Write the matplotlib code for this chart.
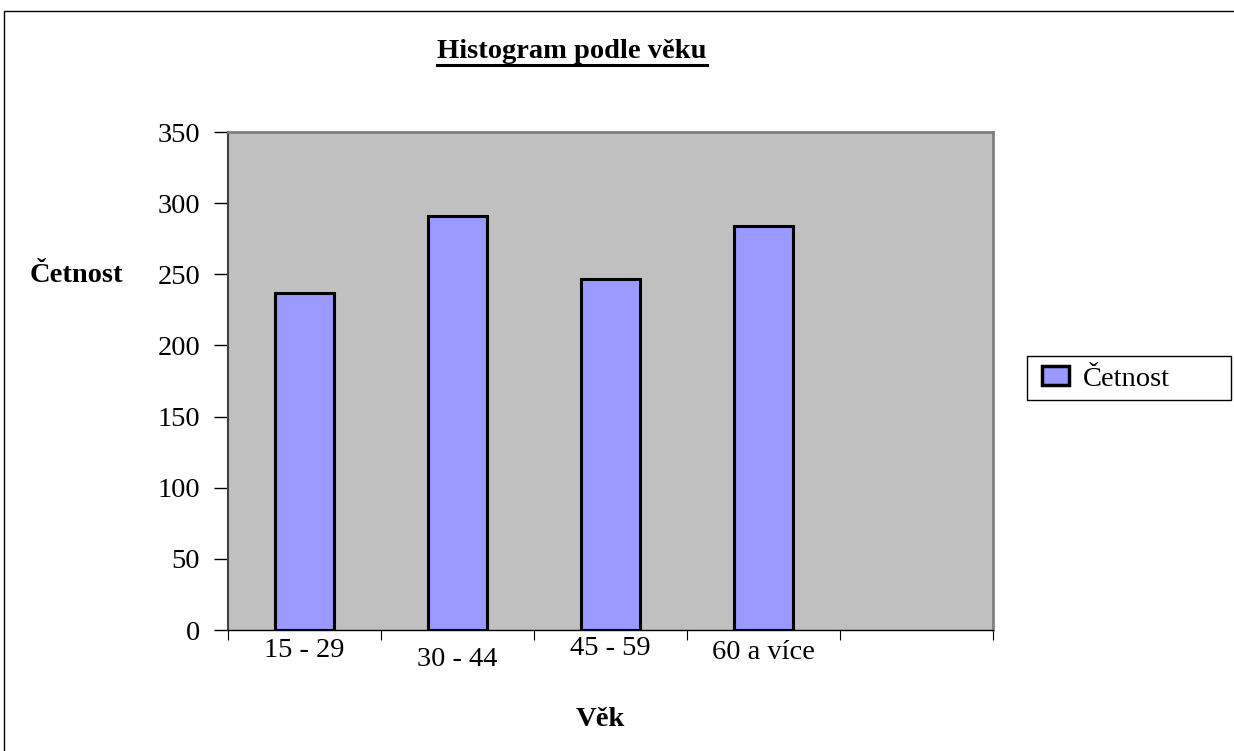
import numpy as np
import matplotlib
matplotlib.use("Agg")
import matplotlib.pyplot as plt
from matplotlib.patches import Rectangle, Patch
from matplotlib.lines import Line2D

# Data
categories = ["15 - 29", "30 - 44", "45 - 59", "60 a více"]
counts = [237, 291, 247, 284]
n_slots = 5  # Excel leaves an empty fifth slot
yticks = [0, 50, 100, 150, 200, 250, 300, 350]

plt.rcParams['font.family'] = ['Liberation Serif', 'DejaVu Serif']
FS = 20.5

fig = plt.figure(figsize=(12.34, 7.51), dpi=100)
ax = fig.add_axes([228/1234, 1-630/751, 765/1234, 498/751])
ax.set_facecolor('#c0c0c0')

x = np.arange(len(counts)) + 0.5
ax.bar(x, counts, width=0.39, color='#9999ff', edgecolor='black', linewidth=2.2, zorder=3)

ax.set_xlim(0, n_slots)
ax.set_ylim(0, 350)
ax.set_yticks(yticks)
ax.set_yticklabels([str(v) for v in yticks], fontsize=FS)

# ticks at slot boundaries, labels at centres
ax.set_xticks(np.arange(n_slots + 1))
ax.set_xticklabels([])
ax.set_xticks(x, minor=True)
ax.set_xticklabels(categories, minor=True, fontsize=FS)
ax.tick_params(axis='x', which='minor', length=0)
ax.tick_params(axis='x', which='major', length=7, width=0.8, direction='out')
ax.tick_params(axis='y', length=10, width=1, direction='out', pad=10)
# labels sit at slightly different heights in the original
pads = [6, 12, 4, 7]
for t, p in zip(ax.xaxis.get_minor_ticks(), pads):
    t.set_pad(p)

for s in ['top', 'right']:
    ax.spines[s].set_color('#808080')
    ax.spines[s].set_linewidth(2)
ax.spines['left'].set_color('#404040')
ax.spines['left'].set_linewidth(1.5)
ax.spines['bottom'].set_color('black')
ax.spines['bottom'].set_linewidth(1)

fig.text(30/1234, 1-276/751, 'Četnost', fontsize=FS, fontweight='bold', ha='left', va='center')
fig.text(600/1234, 1-720/751, 'Věk', fontsize=FS, fontweight='bold', ha='center', va='center')
title = fig.text(572/1234, 1-52/751, 'Histogram podle věku', fontsize=FS, fontweight='bold',
                 ha='center', va='center')

fig.canvas.draw()
bb = title.get_window_extent().transformed(fig.transFigure.inverted())
fig.add_artist(Line2D([bb.x0, bb.x1], [bb.y0 - 0.001, bb.y0 - 0.001], color='black',
                      linewidth=2.2, transform=fig.transFigure))

# legend: frame drawn separately so it matches the wide Excel box
fig.add_artist(Rectangle((1027/1234, 1-400/751), 204/1234, 44/751, transform=fig.transFigure,
                         fill=False, edgecolor='black', linewidth=1))
leg = fig.legend(handles=[Patch(facecolor='#9999ff', edgecolor='black', linewidth=2.5, label='Četnost')],
                 loc='center left', bbox_to_anchor=(1036/1234, 1-379/751), fontsize=FS,
                 frameon=False, borderpad=0.2, borderaxespad=0,
                 handlelength=0.95, handleheight=0.6, handletextpad=0.5)

# outer chart frame
fig.add_artist(Rectangle((4/1234, -0.05), 1.1, 1 - 11/751 + 0.05, transform=fig.transFigure,
                         fill=False, edgecolor='black', linewidth=1))

fig.savefig('out.png', dpi=100)
